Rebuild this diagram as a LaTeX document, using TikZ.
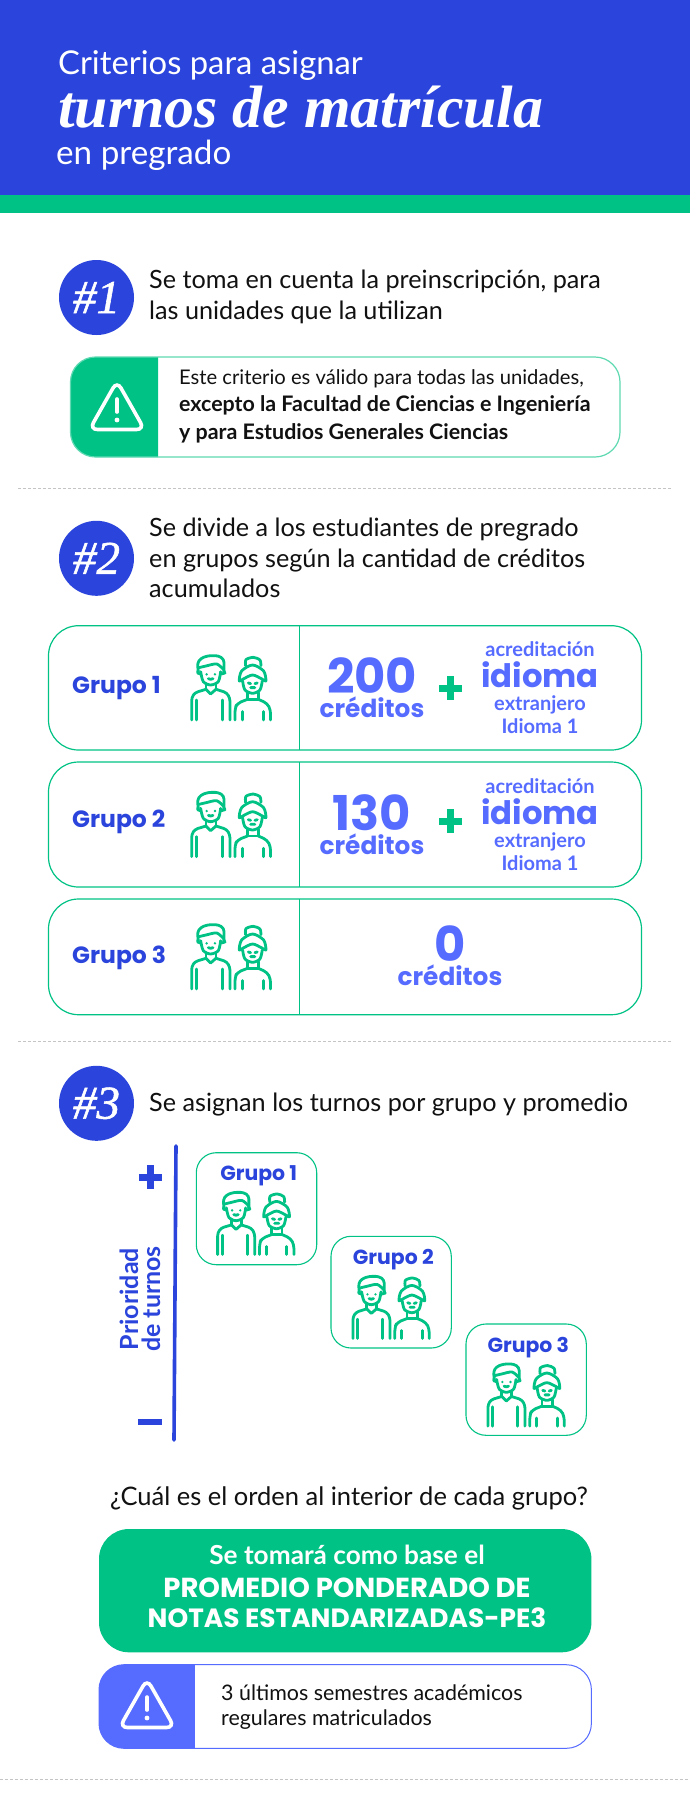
\documentclass[tikz,border=0pt]{standalone}
\usepackage{fontspec}
\setmainfont{Lato}
\newfontfamily\titlefont{Liberation Serif}
\newfontfamily\pasofont[ItalicFeatures={FakeBold=1.2}]{Liberation Serif}
\newfontfamily\numfont{Poppins}
\newcommand{\fs}[1]{\fontsize{#1}{#1}\selectfont}
\definecolor{azul}{HTML}{2A44DC}
\definecolor{celeste}{HTML}{566BFF}
\definecolor{verde}{HTML}{00C285}
\definecolor{borde}{HTML}{5FD9B2}
\definecolor{tinta}{HTML}{111111}
\definecolor{punteado}{HTML}{C4C4C4}
\tikzset{
  pasotxt/.style={anchor=base west,align=left,text=tinta,font=\fs{25.2}},
  paso/.style={circle,fill=azul,minimum size=75pt,inner sep=0pt,text=white,font=\pasofont\itshape\fs{47}},
  grupo/.style={anchor=base west,text=azul,font=\numfont\bfseries\fs{23.5}},
  grupito/.style={anchor=base,text=azul,font=\numfont\bfseries\fs{20.4}},
  numero/.style={anchor=base,text=celeste,font=\numfont\bfseries\fs{48}},
  creditos/.style={anchor=base,text=celeste,font=\numfont\bfseries\fs{24.8}},
  idiomita/.style={anchor=base,text=celeste,font=\bfseries\fs{20}},
  idiomabig/.style={anchor=base,text=celeste,font=\numfont\bfseries\fs{32.3}},
  caja/.style={draw=verde,line width=1.2pt,rounded corners=30pt},
  cajita/.style={draw=verde,line width=1.1pt,rounded corners=20pt},
  divisor/.style={draw=punteado,dashed,line width=.7pt,dash pattern=on 3pt off 2pt},
  pareja/.pic={
    \begin{scope}[draw=verde,line width=2.8pt,line cap=round,line join=round]
      \draw[rounded corners=3pt] (22,50)--(19,25)--(29,10)--(52,2)--(82,2)--(99,13)--(99,50);
      \draw plot[smooth] coordinates {(24,38) (45,33) (77,27) (97,43)};
      \draw plot[smooth] coordinates {(29,50) (37,80) (59,90) (82,80) (89,50)};
      \draw (21,47)--(20,54)--(28,57) (98,47)--(102,54)--(91,57);
      \fill[verde] (47,58) circle (4) (72,58) circle (4);
      \draw (52,71)--(59,73)--(66,71);
      \draw (45,85)--(45,103) (75,85)--(75,103);
      \draw[rounded corners=3pt] (2,195)--(2,128)--(12,113)--(45,103);
      \draw (45,103)--(59,117)--(75,103);
      \draw[rounded corners=3pt] (75,103)--(107,113)--(117,130)--(117,195);
      \draw (17,135)--(17,195) (94,135)--(94,195);
      \draw plot[smooth] coordinates {(164,32) (165,14) (187,7) (207,15) (210,32)};
      \draw plot[smooth cycle] coordinates {(145,78) (152,48) (185,30) (218,48) (225,78) (213,72) (185,60) (157,72)};
      \draw plot[smooth] coordinates {(155,78) (162,105) (185,115) (207,105) (214,78)};
      \draw (172,84)--(179,86) (192,86)--(199,84) (179,98)--(192,98);
      \draw (170,113)--(170,133)--(202,133)--(202,113);
      \draw[rounded corners=4pt] (132,195)--(132,160)--(139,145)--(170,133) (202,133)--(229,145)--(239,165)--(239,195);
      \draw (154,170)--(154,195) (217,170)--(217,195);
    \end{scope}
  },
  aviso/.pic={
    \draw[white,line width=3.6pt,rounded corners=8pt] (0,-28)--(27.5,20.5)--(-27.5,20.5)--cycle;
    \draw[white,line width=3.6pt,line cap=round] (0,-10)--(0,3);
    \fill[white] (0,11) circle (2.4);
  },
  mas/.pic={
    \fill[#1] (-11.5,-3.5) rectangle (11.5,3.5);
    \fill[#1] (-3.5,-12) rectangle (3.5,12);
  }
}
\begin{document}
\begin{tikzpicture}[x=1pt,y=-1pt]
  \useasboundingbox (0,0) rectangle (690,1800);
  \fill[white] (0,0) rectangle (690,1800);
  \fill[azul] (0,0) rectangle (690,195);
  \fill[verde] (0,195) rectangle (690,213);
  \node[anchor=base west,inner sep=0pt,text=white,font=\fs{32.8}] (titulo1) at (58,74) {Criterios para asignar};
  \node[anchor=base west,inner sep=0pt,text=white,font=\titlefont\bfseries\itshape\fs{59.8}] (titulo2) at (58,127) {turnos de matrícula};
  \node[anchor=base west,inner sep=0pt,text=white,font=\fs{33.2}] (titulo3) at (56,164) {en pregrado};

  \node[paso] (paso1) at (96.5,297.5) {\#1};
  \node[pasotxt,inner sep=0pt] (texto1) at (149,319) {Se toma en cuenta la preinscripción, para\\[5pt]las unidades que la utilizan};

  \fill[verde,rounded corners=25pt] (158,357) {[rounded corners=25pt] -- (70.5,357) -- (70.5,457)} [sharp corners] -- (158,457) -- cycle;
  \draw[borde,line width=1.2pt,rounded corners=25pt] (70.5,357) rectangle (620,457);
  \pic at (117,409) {aviso};
  \node[anchor=base west,inner sep=0pt,align=left,text=tinta,font=\fs{20.2}] (nota1) at (179,439)
    {Este criterio es válido para todas las unidades,\\[7pt]{\bfseries\fs{21.4}excepto la Facultad de Ciencias e Ingeniería}\\[7pt]{\bfseries\fs{21.4}y para Estudios Generales Ciencias}};

  \draw[divisor] (18,488) -- (672,488);

  \node[paso] (paso2) at (96.5,558.3) {\#2};
  \node[pasotxt,inner sep=0pt] (texto2) at (149,597.3) {Se divide a los estudiantes de pregrado\\[5pt]en grupos según la cantidad de créditos\\[5pt]acumulados};

  \draw[caja] (48.5,625.7) rectangle (641.5,750);
  \draw[caja] (48.5,762) rectangle (641.5,887);
  \draw[caja] (48.5,899) rectangle (641.5,1014.7);
  \draw[verde,line width=1.2pt] (299.5,625.7) -- (299.5,750) (299.5,762) -- (299.5,887) (299.5,899) -- (299.5,1014.7);

  \node[grupo,inner sep=0pt] (grupo1) at (72,693.5) {Grupo 1};
  \node[grupo,inner sep=0pt] (grupo2) at (72,827) {Grupo 2};
  \node[grupo,inner sep=0pt] (grupo3) at (72,963) {Grupo 3};
  \pic[scale=.333] at (191,655) {pareja};
  \pic[scale=.333] at (191,791.7) {pareja};
  \pic[scale=.333] at (191,924) {pareja};

  \node[numero,inner sep=0pt] (num1) at (372,693) {200};
  \node[creditos,inner sep=0pt] (cred1) at (372,717) {créditos};
  \pic at (450,688) {mas=verde};
  \node[idiomita,inner sep=0pt] (acre1) at (540,656.7) {acreditación};
  \node[idiomabig,inner sep=0pt] (idio1) at (540,687) {idioma};
  \node[idiomita,inner sep=0pt] (extr1) at (540,710) {extranjero};
  \node[idiomita,inner sep=0pt] (nivel1) at (540,733.3) {Idioma 1};

  \node[numero,inner sep=0pt] (num2) at (372,830) {130};
  \node[creditos,inner sep=0pt] (cred2) at (372,854) {créditos};
  \pic at (450,821) {mas=verde};
  \node[idiomita,inner sep=0pt] (acre2) at (540,793.7) {acreditación};
  \node[idiomabig,inner sep=0pt] (idio2) at (540,824) {idioma};
  \node[idiomita,inner sep=0pt] (extr2) at (540,847) {extranjero};
  \node[idiomita,inner sep=0pt] (nivel2) at (540,870.3) {Idioma 1};

  \node[numero,inner sep=0pt] (num3) at (450,961) {0};
  \node[creditos,inner sep=0pt] (cred3) at (450,985.7) {créditos};

  \draw[divisor] (18,1041) -- (672,1041);

  \node[paso] (paso3) at (96.5,1103.3) {\#3};
  \node[pasotxt,inner sep=0pt] (texto3) at (149,1111.7) {Se asignan los turnos por grupo y promedio};

  \coordinate (ejearriba) at (176,1146);
  \coordinate (ejeabajo) at (174,1440);
  \draw[azul,line width=3.6pt,line cap=round] (ejearriba) -- (ejeabajo);
  \pic at (150,1177) {mas=azul};
  \fill[azul] (138,1418.7) rectangle (162,1425);
  \node[anchor=base,inner sep=0pt,rotate=90,text=azul,font=\bfseries\fs{25}] (prio1) at (138,1299) {Prioridad};
  \node[anchor=base,inner sep=0pt,rotate=90,text=azul,font=\bfseries\fs{25}] (prio2) at (160,1299) {de turnos};

  \draw[cajita] (196.3,1152.7) rectangle (316.7,1264.7);
  \node[grupito,inner sep=0pt] (mini1) at (258.7,1180) {Grupo 1};
  \pic[scale=.322] at (217,1191.7) {pareja};
  \draw[cajita] (331,1236.3) rectangle (451.3,1348);
  \node[grupito,inner sep=0pt] (mini2) at (393.3,1264.3) {Grupo 2};
  \pic[scale=.322] at (352.3,1275.7) {pareja};
  \draw[cajita] (466,1324) rectangle (586.3,1435.3);
  \node[grupito,inner sep=0pt] (mini3) at (528.3,1352.3) {Grupo 3};
  \pic[scale=.322] at (487.3,1363.3) {pareja};

  \node[anchor=base,inner sep=0pt,text=tinta,font=\fs{25.5}] (pregunta) at (349,1505) {¿Cuál es el orden al interior de cada grupo?};

  \fill[verde,rounded corners=30pt] (99,1529) rectangle (591.4,1652.3);
  \node[anchor=base,inner sep=0pt,text=white,font=\bfseries\fs{26.2}] (base1) at (347,1564.3) {Se tomará como base el};
  \node[anchor=base,inner sep=0pt,text=white,font=\numfont\bfseries\fs{27.5}] (base2) at (347,1597.7) {PROMEDIO PONDERADO DE};
  \node[anchor=base,inner sep=0pt,text=white,font=\numfont\bfseries\fs{26.4}] (base3) at (347,1627.7) {NOTAS ESTANDARIZADAS-PE3};

  \fill[celeste,rounded corners=25pt] (194.8,1664.7) {[rounded corners=25pt] -- (99,1664.7) -- (99,1748.3)} [sharp corners] -- (194.8,1748.3) -- cycle;
  \draw[celeste,line width=1pt,rounded corners=25pt] (99,1664.7) rectangle (591.4,1748.3);
  \pic at (147,1707) {aviso};
  \node[anchor=base west,inner sep=0pt,align=left,text=tinta,font=\fs{21.4}] (nota2) at (221,1725) {3 últimos semestres académicos\\[3.6pt]regulares matriculados};

  \draw[divisor] (0,1779) -- (690,1779);
\end{tikzpicture}
\end{document}
